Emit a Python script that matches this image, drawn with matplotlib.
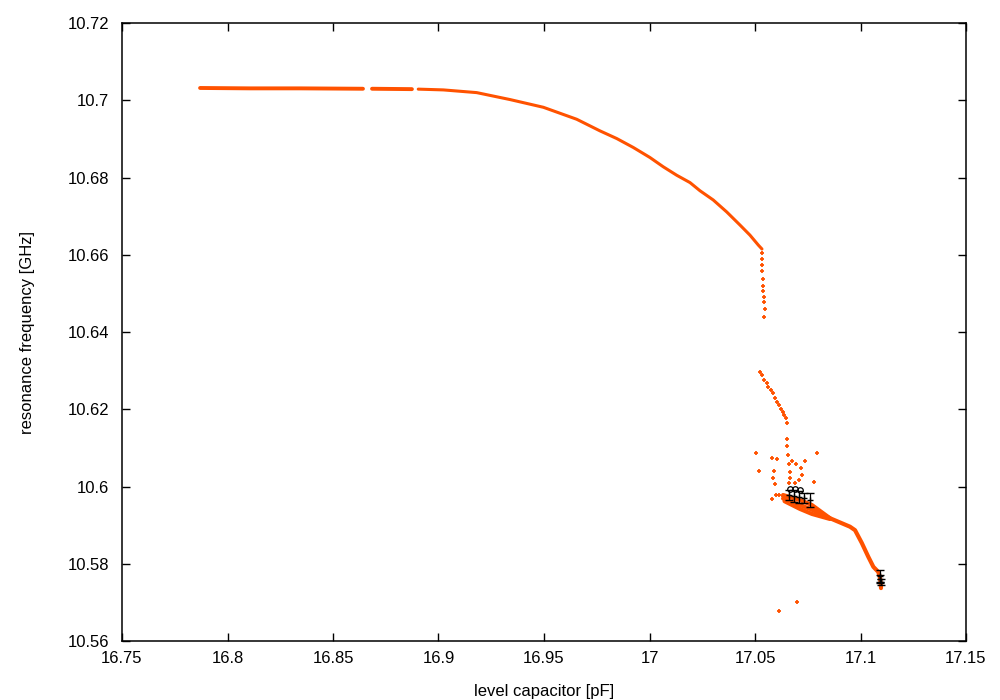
import matplotlib
matplotlib.use("Agg")
import matplotlib.pyplot as plt

plt.rcParams['font.family'] = ['Liberation Sans', 'DejaVu Sans']

ORANGE = '#ff5200'

# continuous-looking segments of densely sampled points
seg1_x = [16.7870, 16.8107, 16.8344, 16.8642]
seg1_y = [10.7032, 10.7031, 10.7031, 10.7030]
seg2_x = [16.8685, 16.8874]
seg2_y = [10.7030, 10.7029]
seg3_x = [16.8904, 16.9023, 16.9181, 16.9339, 16.9497, 16.9655, 16.9765, 16.9845,
          16.9923, 17.0002, 17.0065, 17.0129, 17.0192, 17.0239, 17.0302, 17.0366,
          17.0429, 17.0476, 17.0516, 17.0533]
seg3_y = [10.7029, 10.7027, 10.7020, 10.7002, 10.6982, 10.6951, 10.6921, 10.6901,
          10.6878, 10.6852, 10.6828, 10.6806, 10.6787, 10.6766, 10.6742, 10.6711,
          10.6677, 10.6651, 10.6625, 10.6615]

# vertical drop (sparse dots)
drop_x = [17.0535, 17.0535, 17.0535, 17.0535, 17.0538, 17.0537, 17.0538, 17.0541,
          17.0541, 17.0547, 17.0543]
drop_y = [10.6605, 10.6589, 10.6573, 10.6558, 10.6538, 10.6519, 10.6505, 10.6492,
          10.6479, 10.6460, 10.6440]

# second branch dots
br_x = [17.0525, 17.0535, 17.0544, 17.0555, 17.0563, 17.0574, 17.0584, 17.0595,
        17.0606, 17.0615, 17.0623, 17.0631, 17.0637, 17.0647, 17.0653]
br_y = [10.6297, 10.6289, 10.6276, 10.6267, 10.6258, 10.6250, 10.6241, 10.6228,
        10.6220, 10.6211, 10.6202, 10.6194, 10.6185, 10.6177, 10.6165]

# scattered points
sc_x = [17.0650, 17.0650, 17.0505, 17.0792, 17.0658, 17.0579, 17.0606, 17.0677,
        17.0736, 17.0661, 17.0693, 17.0719, 17.0520, 17.0592, 17.0666, 17.0723,
        17.0587, 17.0666, 17.0709, 17.0781, 17.0596, 17.0661, 17.0690, 17.0581,
        17.0600, 17.0615, 17.0634, 17.0698, 17.0615]
sc_y = [10.6124, 10.6105, 10.6088, 10.6086, 10.6082, 10.6075, 10.6070, 10.6067,
        10.6065, 10.6059, 10.6058, 10.6048, 10.6039, 10.6041, 10.6038, 10.6030,
        10.6021, 10.6021, 10.6017, 10.6012, 10.6006, 10.6008, 10.6010, 10.5967,
        10.5977, 10.5977, 10.5975, 10.5702, 10.5677]

# dense lower band
band_x = [17.0633, 17.0690, 17.0761, 17.0855, 17.0950, 17.0974, 17.1006, 17.1037,
          17.1061, 17.1084, 17.1092, 17.1097, 17.1097]
band_y = [10.5969, 10.5957, 10.5942, 10.5918, 10.5896, 10.5887, 10.5854, 10.5818,
          10.5792, 10.5779, 10.5766, 10.5742, 10.5737]
bandu_x = [17.0633, 17.0713, 17.0770, 17.0855]
bandu_y = [10.5978, 10.5965, 10.5952, 10.5918]
bandl_x = [17.0640, 17.0713, 17.0770, 17.0855]
bandl_y = [10.5962, 10.5942, 10.5929, 10.5916]

# error-bar points (black)
eb_x = [17.0661, 17.0685, 17.0709, 17.0732, 17.0761, 17.1093, 17.1093, 17.1095]
eb_y = [10.5978, 10.5975, 10.5973, 10.5970, 10.5965, 10.5768, 10.5760, 10.5752]
eb_err = [0.0013, 0.0016, 0.0016, 0.0013, 0.0018, 0.0016, 0.0010, 0.0008]
ring_x = [17.0666, 17.0690, 17.0711]
ring_y = [10.5994, 10.5993, 10.5990]

xticks = [16.75, 16.8, 16.85, 16.9, 16.95, 17.0, 17.05, 17.1, 17.15]
xticklabels = ['16.75', '16.8', '16.85', '16.9', '16.95', '17', '17.05', '17.1', '17.15']
yticks = [10.56, 10.58, 10.60, 10.62, 10.64, 10.66, 10.68, 10.70, 10.72]
yticklabels = ['10.56', '10.58', '10.6', '10.62', '10.64', '10.66', '10.68', '10.7', '10.72']

fig = plt.figure(figsize=(10, 7), dpi=100)
ax = fig.add_axes([0.122, 0.0843, 0.844, 0.8827])

for xs, ys, lw in [(seg1_x, seg1_y, 2.8), (seg2_x, seg2_y, 2.8), (seg3_x, seg3_y, 2.2)]:
    ax.plot(xs, ys, color=ORANGE, lw=lw, solid_capstyle='round',
            solid_joinstyle='round', zorder=2)
for xs, ys in [(band_x, band_y), (bandu_x, bandu_y), (bandl_x, bandl_y)]:
    ax.plot(xs, ys, color=ORANGE, lw=3.0, solid_capstyle='round',
            solid_joinstyle='round', zorder=2)

for xs, ys in [(drop_x, drop_y), (br_x, br_y), (sc_x, sc_y)]:
    ax.plot(xs, ys, linestyle='none', marker='+', ms=3.5, mew=1.3,
            color=ORANGE, zorder=2)

ax.errorbar(eb_x, eb_y, yerr=eb_err, fmt='+', color='black', ms=5, mew=1,
            elinewidth=0.9, capsize=3, capthick=0.9, zorder=3)
ax.plot(ring_x, ring_y, linestyle='none', marker='o', ms=4, mfc='none',
        mec='black', mew=0.9, zorder=3)

ax.set_xlim(16.75, 17.15)
ax.set_ylim(10.56, 10.72)
ax.set_xticks(xticks)
ax.set_xticklabels(xticklabels)
ax.set_yticks(yticks)
ax.set_yticklabels(yticklabels)
ax.tick_params(direction='in', length=6, width=1, top=True, right=True,
               labelsize=12, pad=9, colors='black')
ax.tick_params(axis='x', pad=7)
for s in ax.spines.values():
    s.set_linewidth(1.1)

ax.set_xlabel('level capacitor [pF]', fontsize=12, labelpad=13)
ax.set_ylabel('resonance frequency [GHz]', fontsize=12, labelpad=24)

fig.savefig('out.png', dpi=100)
